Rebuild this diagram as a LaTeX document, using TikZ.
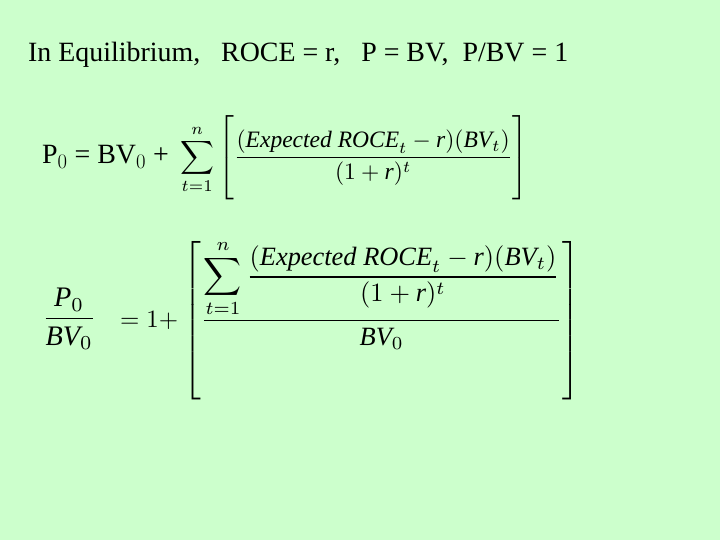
\documentclass[tikz,border=0pt]{standalone}
\usepackage{amsmath}
\usepackage{fontspec}
\usepackage{graphicx}
\setmainfont{Liberation Serif}
\definecolor{slidebg}{RGB}{204,255,204}
\newcommand{\iv}[1]{\textit{#1}}
\begin{document}
\begin{tikzpicture}[x=1bp,y=-1bp,
  txt/.style={inner sep=0pt,anchor=west,font=\fontsize{28}{33}\selectfont}]
\fill[slidebg] (0,0) rectangle (720,540);
\useasboundingbox (0,0) rectangle (720,540);
\node[txt] (title) at (28,55) {In Equilibrium,\ \ \ ROCE = r,\ \ \ P = BV,\ \ P/BV = 1};
\node[txt] (lhs1) at (42,157) {P$_0$ = BV$_0$ +};
\node[inner sep=0pt,anchor=west] (rhs1) at (180,156) {\resizebox{348bp}{!}{$\displaystyle \sum_{t=1}^{n}\left[\rule[-14pt]{0pt}{36pt}\frac{(\iv{Expected ROCE}_t-\iv{r})(\iv{BV}_t)}{(1+\iv{r})^t}\right]$}};
\node[inner sep=0pt,anchor=west] (lhs2) at (42,319) {\resizebox{54bp}{!}{$\dfrac{\iv{P}_0}{\iv{BV}_0}$}};
\node[inner sep=0pt,anchor=west] (eq2) at (120,321) {\resizebox{58bp}{!}{$=1+$}};
\node[inner sep=0pt,anchor=west] (rhs2) at (183,320) {\resizebox{397bp}{!}{$\left[\rule[-22pt]{0pt}{52pt}\dfrac{\displaystyle\sum_{t=1}^{n}\frac{(\iv{Expected ROCE}_t-\iv{r})(\iv{BV}_t)}{(1+\iv{r})^t}}{\iv{BV}_0}\right]$}};
\end{tikzpicture}
\end{document}
